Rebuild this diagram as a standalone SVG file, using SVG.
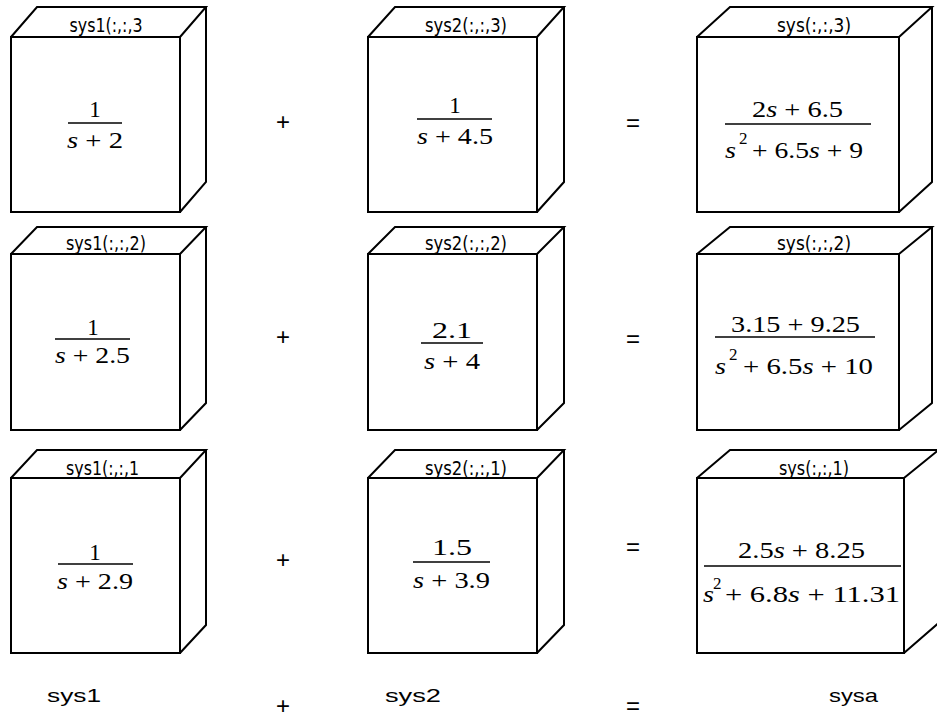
<svg xmlns="http://www.w3.org/2000/svg" width="937" height="719" viewBox="0 0 937 719">
<style>
.box{fill:none;stroke:#000;stroke-width:2;stroke-linejoin:miter}
.bar{stroke:#000;stroke-width:1.4}
.lab{font-family:"DejaVu Sans Condensed","Liberation Sans Narrow","Liberation Sans",sans-serif;font-size:19px;fill:#000}
.m{font-family:"Liberation Serif","DejaVu Serif",serif;font-size:23px;fill:#000}
.sup{font-family:"Liberation Serif","DejaVu Serif",serif;font-size:17px;fill:#000}
.i{font-style:italic}
.op{font-family:"Liberation Sans",Arial,sans-serif;font-size:24px;fill:#000;text-anchor:middle}
.b{font-family:"Liberation Sans",Arial,sans-serif;font-size:19px;fill:#000}
</style>

<g id="sys1_3">
<rect class="box" x="11" y="37" width="169" height="175"/>
<path class="box" d="M11,37 L37,7 L206,7 L180,37 M206,7 L206,182 L180,212"/>
<text class="lab" x="69.5" y="32" textLength="73" lengthAdjust="spacingAndGlyphs">sys1(:,:,3</text>
<text class="m" x="95" y="117" text-anchor="middle">1</text>
<line class="bar" x1="68" y1="123" x2="122" y2="123"/>
<text class="m" x="67" y="148" textLength="56" lengthAdjust="spacingAndGlyphs"><tspan class="i">s</tspan> + 2</text>
</g>

<g id="sys2_3">
<rect class="box" x="368" y="37" width="169" height="175"/>
<path class="box" d="M368,37 L395,7 L564,7 L537,37 M564,7 L564,182 L537,212"/>
<text class="lab" x="425" y="32" textLength="82" lengthAdjust="spacingAndGlyphs">sys2(:,:,3)</text>
<text class="m" x="455" y="113" text-anchor="middle">1</text>
<line class="bar" x1="417" y1="119" x2="492" y2="119"/>
<text class="m" x="417" y="144" textLength="76" lengthAdjust="spacingAndGlyphs"><tspan class="i">s</tspan> + 4.5</text>
</g>

<g id="sys_3">
<rect class="box" x="697" y="37" width="202" height="175"/>
<path class="box" d="M697,37 L730,7 L932,7 L899,37 M932,7 L932,182 L899,212"/>
<text class="lab" x="777" y="32" textLength="74" lengthAdjust="spacingAndGlyphs">sys(:,:,3)</text>
<text class="m" x="752" y="117" textLength="91" lengthAdjust="spacingAndGlyphs">2<tspan class="i">s</tspan> + 6.5</text>
<line class="bar" x1="725" y1="124" x2="871" y2="124"/>
<text class="m i" x="725" y="158" textLength="11" lengthAdjust="spacingAndGlyphs">s</text>
<text class="sup" x="739" y="144">2</text>
<text class="m" x="752" y="158" textLength="111" lengthAdjust="spacingAndGlyphs">+ 6.5<tspan class="i">s</tspan> + 9</text>
</g>

<g id="sys1_2">
<rect class="box" x="11" y="254" width="169" height="176"/>
<path class="box" d="M11,254 L37,227 L206,227 L180,254 M206,227 L206,403 L180,430"/>
<text class="lab" x="66" y="250" textLength="80" lengthAdjust="spacingAndGlyphs">sys1(:,:,2)</text>
<text class="m" x="93" y="335" text-anchor="middle">1</text>
<line class="bar" x1="55" y1="339" x2="130" y2="339"/>
<text class="m" x="55" y="363" textLength="75" lengthAdjust="spacingAndGlyphs"><tspan class="i">s</tspan> + 2.5</text>
</g>

<g id="sys2_2">
<rect class="box" x="368" y="254" width="169" height="176"/>
<path class="box" d="M368,254 L395,227 L564,227 L537,254 M564,227 L564,403 L537,430"/>
<text class="lab" x="425" y="250" textLength="82" lengthAdjust="spacingAndGlyphs">sys2(:,:,2)</text>
<text class="m" x="432" y="338" textLength="40" lengthAdjust="spacingAndGlyphs">2.1</text>
<line class="bar" x1="421" y1="343" x2="483" y2="343"/>
<text class="m" x="424" y="369" textLength="56" lengthAdjust="spacingAndGlyphs"><tspan class="i">s</tspan> + 4</text>
</g>

<g id="sys_2">
<rect class="box" x="697" y="254" width="202" height="176"/>
<path class="box" d="M697,254 L730,227 L932,227 L899,254 M932,227 L932,403 L899,430"/>
<text class="lab" x="777" y="250" textLength="74" lengthAdjust="spacingAndGlyphs">sys(:,:,2)</text>
<text class="m" x="731" y="332" textLength="129" lengthAdjust="spacingAndGlyphs">3.15 + 9.25</text>
<line class="bar" x1="715" y1="337" x2="875" y2="337"/>
<text class="m i" x="715" y="374" textLength="11" lengthAdjust="spacingAndGlyphs">s</text>
<text class="sup" x="729" y="360">2</text>
<text class="m" x="743" y="374" textLength="130" lengthAdjust="spacingAndGlyphs">+ 6.5<tspan class="i">s</tspan> + 10</text>
</g>

<g id="sys1_1">
<rect class="box" x="11" y="478" width="169" height="175"/>
<path class="box" d="M11,478 L37,450 L206,450 L180,478 M206,450 L206,625 L180,653"/>
<text class="lab" x="66" y="475" textLength="73" lengthAdjust="spacingAndGlyphs">sys1(:,:,1</text>
<text class="m" x="95" y="560" text-anchor="middle">1</text>
<line class="bar" x1="58" y1="564" x2="133" y2="564"/>
<text class="m" x="57" y="589" textLength="76" lengthAdjust="spacingAndGlyphs"><tspan class="i">s</tspan> + 2.9</text>
</g>

<g id="sys2_1">
<rect class="box" x="368" y="478" width="169" height="175"/>
<path class="box" d="M368,478 L395,450 L564,450 L537,478 M564,450 L564,625 L537,653"/>
<text class="lab" x="425" y="475" textLength="82" lengthAdjust="spacingAndGlyphs">sys2(:,:,1)</text>
<text class="m" x="432" y="555" textLength="40" lengthAdjust="spacingAndGlyphs">1.5</text>
<line class="bar" x1="413" y1="562" x2="490" y2="562"/>
<text class="m" x="413" y="588" textLength="77" lengthAdjust="spacingAndGlyphs"><tspan class="i">s</tspan> + 3.9</text>
</g>

<g id="sys_1">
<rect class="box" x="697" y="478" width="207" height="175"/>
<path class="box" d="M697,478 L730,450 L938.5,450 L904,478 M938.5,450 L938.5,623 L904,653"/>
<text class="lab" x="779" y="475" textLength="70" lengthAdjust="spacingAndGlyphs">sys(:,:,1)</text>
<text class="m" x="738" y="558" textLength="127" lengthAdjust="spacingAndGlyphs">2.5<tspan class="i">s</tspan> + 8.25</text>
<line class="bar" x1="704" y1="566" x2="901" y2="566"/>
<text class="m i" x="703" y="602" textLength="11" lengthAdjust="spacingAndGlyphs">s</text>
<text class="sup" x="713" y="589">2</text>
<text class="m" x="725" y="602" textLength="175" lengthAdjust="spacingAndGlyphs">+ 6.8<tspan class="i">s</tspan> + 11.31</text>
</g>

<g id="operators">
<text class="op" x="283" y="130">+</text>
<text class="op" x="633" y="131">=</text>
<text class="op" x="283" y="345">+</text>
<text class="op" x="633" y="347">=</text>
<text class="op" x="283" y="568">+</text>
<text class="op" x="633" y="555">=</text>
</g>

<g id="bottom">
<text class="b" x="47" y="702" textLength="54" lengthAdjust="spacingAndGlyphs">sys1</text>
<text class="op" x="283" y="714">+</text>
<text class="b" x="385" y="702" textLength="56" lengthAdjust="spacingAndGlyphs">sys2</text>
<text class="op" x="633" y="714">=</text>
<text class="b" x="829" y="702" textLength="49" lengthAdjust="spacingAndGlyphs">sysa</text>
</g>
</svg>
